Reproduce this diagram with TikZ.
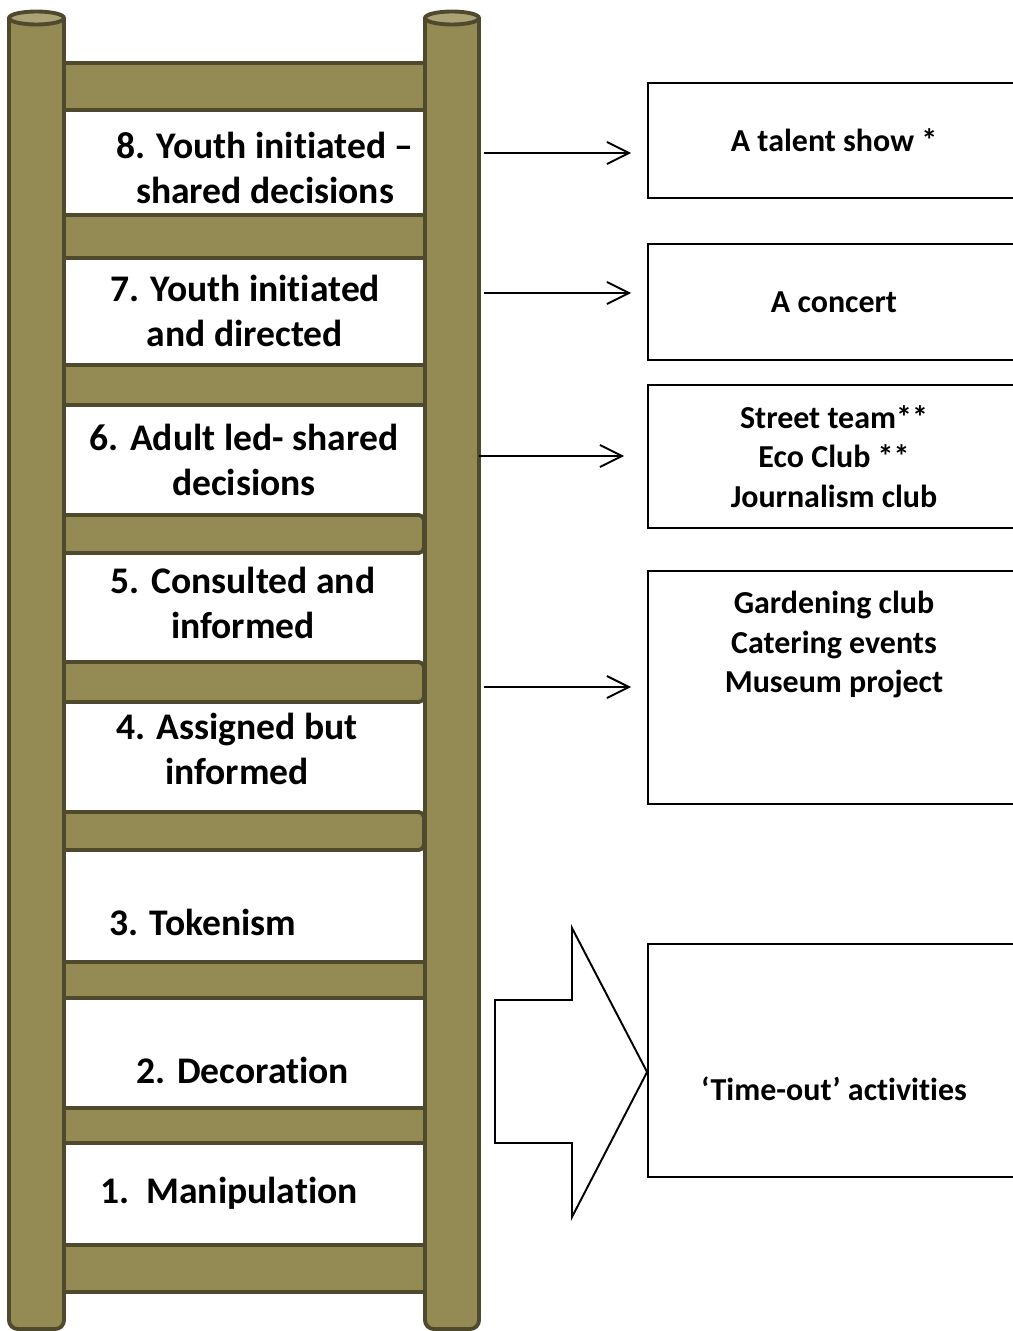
\documentclass[tikz,border=0pt]{standalone}
\usepackage{fontspec}
\setmainfont{Carlito}[Ligatures=NoCommon]
\usepackage{xcolor}
\usetikzlibrary{arrows.meta,positioning,calc}
\definecolor{ladderfill}{HTML}{948A54}
\definecolor{ladderline}{HTML}{4F4A2D}
\definecolor{laddertop}{HTML}{ABA276}

\begin{document}
\begin{tikzpicture}[
  x=0.02cm, y=-0.02cm,
  rung/.style={draw=ladderline, fill=ladderfill, line width=2.2pt},
  roundrung/.style={rung, rounded corners=3},
  post/.style={draw=ladderline, fill=ladderfill, line width=2.2pt, rounded corners=5},
  posttop/.style={draw=ladderline, fill=laddertop, line width=2.2pt},
  level/.style={align=center, inner sep=0pt, font=\fontsize{21.4}{26.1}\selectfont\bfseries},
  activity/.style={rectangle, draw=black, line width=1.1pt, minimum width=7.44cm, align=center, font=\fontsize{18.2}{22.4}\selectfont\bfseries},
  acttext/.style={align=center, inner sep=0pt, font=\fontsize{18.2}{22.4}\selectfont\bfseries},
  arrow/.style={-{Straight Barb[length=4.4mm, width=4.4mm]}, line width=1.1pt, shorten >=0.32cm}
]
\useasboundingbox (0,0) rectangle (1012,1331);

% rungs
\draw[rung] (63,63) rectangle (425,110);
\draw[rung] (63,215) rectangle (425,258);
\draw[rung] (63,365) rectangle (425,405);
\draw[roundrung] (50,515) rectangle (424,553);
\draw[roundrung] (50,662) rectangle (424,702);
\draw[roundrung] (50,812) rectangle (424,850);
\draw[rung] (63,962) rectangle (425,998);
\draw[rung] (63,1108) rectangle (425,1143);
\draw[rung] (63,1245) rectangle (425,1292);

% posts
\draw[post] (9,18) -- (9,1329) -- (64,1329) -- (64,18);
\draw[posttop] (36.5,18) ellipse [x radius=27.5, y radius=6.5];
\draw[post] (425,18) -- (425,1329) -- (479,1329) -- (479,18);
\draw[posttop] (452,18) ellipse [x radius=27, y radius=6.5];

% ladder levels
\node[level] (lv8) at (265,168) {8. Youth initiated –\\shared decisions};
\node[level] (lv7) at (245,311) {7. Youth initiated\\and directed};
\node[level] (lv6) at (244,460) {6. Adult led- shared\\decisions};
\node[level] (lv5) at (243,603) {5. Consulted and\\informed};
\node[level] (lv4) at (237,749) {4. Assigned but\\informed};
\node[level] (lv3) at (203,922) {3. Tokenism};
\node[level] (lv2) at (243,1070) {2. Decoration};
\node[level] (lv1) at (229,1193) {1.\ \ Manipulation};

% activities
\node[activity, minimum height=2.3cm] (act8) at (834,140.5) {A talent show *};
\node[activity, minimum height=2.32cm] (act7) at (834,302) {A concert};
\node[activity, minimum height=2.86cm] (act6) at (834,456.5) {Street team**\\Eco Club **\\Journalism club};
\node[activity, minimum height=4.66cm] (act45) at (834,687.5) {};
\node[acttext, below=0.42cm of act45.north] (act45txt) {Gardening club\\Catering events\\Museum project};
\node[activity, minimum height=4.66cm] (act12) at (834,1060.5) {};
\node[acttext] (act12txt) at (834,1089) {‘Time-out’ activities};

% arrows
\coordinate (from8) at (484,153);
\coordinate (from7) at (484,293);
\coordinate (from6) at (479,456);
\coordinate (from45) at (484,687);
\draw[arrow] (from8) -- (from8 -| act8.west);
\draw[arrow] (from7) -- (from7 -| act7.west);
\draw[arrow, shorten >=0.46cm] (from6) -- (from6 -| act6.west);
\draw[arrow] (from45) -- (from45 -| act45.west);

% block arrow
\draw[line width=1.1pt] (495,1000) -- (572,1000) -- (572,928) -- (act12.west |- 0,1072) -- (572,1217) -- (572,1143) -- (495,1143) -- cycle;
\end{tikzpicture}
\end{document}
